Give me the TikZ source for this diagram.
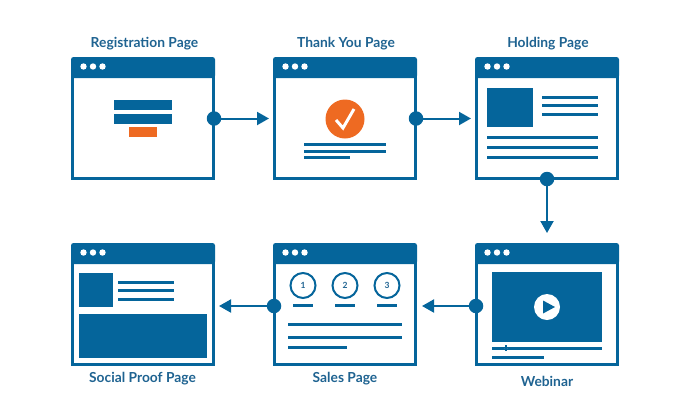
\documentclass[tikz,border=0pt]{standalone}
\usepackage{fontspec}
\setmainfont{Lato}
\usetikzlibrary{arrows.meta}
\definecolor{pageblue}{HTML}{05659B}
\definecolor{pagetext}{HTML}{1F6391}
\definecolor{pageorange}{HTML}{EE6A22}
\tikzset{
  pagebox/.style={minimum width=144,minimum height=123,inner sep=0,outer sep=0},
  pagerule/.style={draw=pageblue,line width=2.7},
  pageline/.style={draw=pageblue,line width=3},
  pagedot/.style={circle,fill=pageblue,minimum size=14.5,inner sep=0,outer sep=0},
  windot/.style={circle,fill=white,minimum size=6.4,inner sep=0,outer sep=0},
  pagelabel/.style={text=pagetext,font=\fontsize{13.8}{15}\selectfont\bfseries,inner sep=0},
  stepnum/.style={circle,draw=pageblue,line width=2,minimum size=25,inner sep=0,text=pagetext,font=\fontsize{8.5}{9}\selectfont\bfseries},
  flow/.style={draw=pageblue,line width=2,-{Triangle[length=12,width=13]}}
}
\begin{document}
\begin{tikzpicture}[x=1pt,y=-1pt]
\useasboundingbox (0,0) rectangle (700,400);
% the six windows
\foreach \nm/\cx/\cy in {reg/143/118.5,thanks/345/118.5,hold/547/118.5,web/547/304.5,sales/345/304.5,social/143/304.5}{
  \node[pagebox] (\nm) at (\cx,\cy) {};
  \draw[pagerule] ([shift={(1.35,-1.35)}]\nm.south west) rectangle ([shift={(-1.35,20)}]\nm.north east);
  \fill[pageblue,rounded corners=2.5] ([shift={(0,21)}]\nm.north west) -- (\nm.north west) -- (\nm.north east) -- ([shift={(0,21)}]\nm.north east) [sharp corners] -- cycle;
  \node[windot] (\nm a) at ([shift={(12.5,9.5)}]\nm.north west) {};
  \node[windot] (\nm b) at ([shift={(22,9.5)}]\nm.north west) {};
  \node[windot] (\nm c) at ([shift={(31.5,9.5)}]\nm.north west) {};
}
% titles
\node[pagelabel] (reglabel) at (144.5,44) {Registration Page};
\node[pagelabel] (thankslabel) at (346,44) {Thank You Page};
\node[pagelabel] (holdlabel) at (548,44) {Holding Page};
\node[pagelabel] (weblabel) at (547,381) {Webinar};
\node[pagelabel] (saleslabel) at (345,379) {Sales Page};
\node[pagelabel] (sociallabel) at (142.5,379) {Social Proof Page};
% registration page
\fill[pageblue] (114,100) rectangle (172,110);
\fill[pageblue] (114,114) rectangle (172,124);
\fill[pageorange] (129,127) rectangle (157,137);
% thank you page
\fill[pageorange] (345,119) circle (19.5);
\draw[white,line width=3] (336,120) -- (343,128) -- (354,109);
\draw[pageline] (304,144) -- (386,144);
\draw[pageline] (304,151) -- (386,151);
\draw[pageline] (304,157) -- (350,157);
% holding page
\fill[pageblue] (487,88) rectangle (533,127);
\draw[pageline] (542,97) -- (598,97);
\draw[pageline] (542,105) -- (598,105);
\draw[pageline] (542,114) -- (598,114);
\draw[pageline] (487,137) -- (598,137);
\draw[pageline] (487,147) -- (598,147);
\draw[pageline] (487,157) -- (598,157);
% webinar
\fill[pageblue] (492,272) rectangle (602,342);
\fill[white] (547,307) circle (13);
\fill[pageblue] (543,300.5) -- (555,307) -- (543,313.5) -- cycle;
\draw[pageline] (492,348) -- (602,348);
\draw[white,line width=4.5] (506,348) -- (506,348.01);
\draw[pageblue,line width=1.5] (506,345) -- (506,351);
\draw[pageline] (492,357) -- (544,357);
% sales page
\node[stepnum] (one) at (303,285.5) {1};
\node[stepnum] (two) at (345,285.5) {2};
\node[stepnum] (three) at (387,285.5) {3};
\draw[pageline] (293,305) -- (313,305);
\draw[pageline] (335,305) -- (355,305);
\draw[pageline] (377,305) -- (397,305);
\draw[pageline] (288,324) -- (402,324);
\draw[pageline] (288,337) -- (402,337);
\draw[pageline] (288,347) -- (347,347);
% social proof page
\fill[pageblue] (79,273) rectangle (113,307);
\draw[pageline] (118,282) -- (174,282);
\draw[pageline] (118,290) -- (174,290);
\draw[pageline] (118,299) -- (174,299);
\fill[pageblue] (79,314) rectangle (207,358);
% connectors
\node[pagedot] (regdot) at (214,118.5) {};
\node[pagedot] (thanksdot) at (416,118.5) {};
\node[pagedot] (holddot) at (547,179) {};
\node[pagedot] (webdot) at (476,306) {};
\node[pagedot] (salesdot) at (274,306) {};
\draw[flow,shorten >=4] (regdot) -- (thanks.west);
\draw[flow,shorten >=4] (thanksdot) -- (hold.west);
\draw[flow,shorten >=10] (holddot) -- (web.north);
\draw[flow,shorten >=5] (webdot) -- (webdot -| sales.east);
\draw[flow,shorten >=4] (salesdot) -- (salesdot -| social.east);
\end{tikzpicture}
\end{document}
